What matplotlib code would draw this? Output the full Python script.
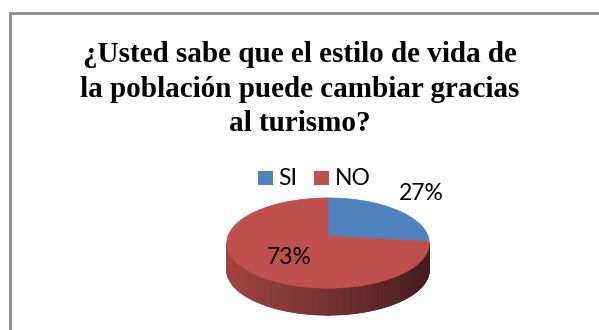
import numpy as np
import matplotlib
matplotlib.use("Agg")
import matplotlib.pyplot as plt
from matplotlib.patches import Polygon, Rectangle

# Survey answers
categories = ["SI", "NO"]
values = [27, 73]
pct_labels = ["27%", "73%"]
colors = ["#4F81BD", "#C0504D"]
title_lines = ["¿Usted sabe que el estilo de vida de",
               "la población puede cambiar gracias",
               "al turismo?"]

W, H = 599, 330
fig = plt.figure(figsize=(W / 100, H / 100), dpi=100)
ax = fig.add_axes([0, 0, 1, 1])
ax.set_xlim(0, W)
ax.set_ylim(H, 0)
ax.axis("off")

# chart frame (left and top edges visible)
ax.plot([9.5, 9.5, W + 5], [H + 5, 13, 13], color="#8c8c8c", lw=2,
        solid_capstyle="butt", solid_joinstyle="miter")

# title
title_font = dict(family="Liberation Serif", weight="bold", size=21,
                  ha="center", va="baseline", color="black")
for line, yb in zip(title_lines, [62, 97, 131]):
    ax.text(300, yb, line, **title_font)

# 3D pie geometry (perspective-tilted disc)
cx, cy = 328, 236
rx, ry, k = 100, 44, 0.156
depth = 27


def proj(theta):
    u, v = np.cos(theta), np.sin(theta)
    s = 1.0 / (1.0 + k * v)
    return cx + rx * u * s, cy - ry * v * s


fracs = np.array(values, dtype=float) / np.sum(values)
bounds = np.deg2rad(90 - 360 * np.concatenate([[0], np.cumsum(fracs)]))


def wedge_index(theta):
    # wrap theta into (start - 2pi, start]
    t = theta
    while t > bounds[0]:
        t -= 2 * np.pi
    while t <= bounds[0] - 2 * np.pi:
        t += 2 * np.pi
    for i in range(len(values)):
        if bounds[i + 1] <= t <= bounds[i]:
            return i
    return len(values) - 1


# visible side wall between silhouette points
ts = np.linspace(-np.pi, 0, 2001)
xs, _ = proj(ts)
t_left = ts[np.argmin(xs)]
t_right = ts[np.argmax(xs)]
xmin, xmax = xs.min(), xs.max()

seg = np.linspace(t_left, t_right, 240)
for a, b in zip(seg[:-1], seg[1:]):
    xa, ya = proj(a)
    xb, yb = proj(b)
    i = wedge_index(0.5 * (a + b))
    base = np.array(matplotlib.colors.to_rgb(colors[i]))
    f = (0.5 * (xa + xb) - xmin) / (xmax - xmin)
    shade = 0.84 - 0.47 * f
    c = np.clip(base * shade, 0, 1)
    quad = [(xa, ya), (xb, yb), (xb, yb + depth), (xa, ya + depth)]
    ax.add_patch(Polygon(quad, closed=True, facecolor=c, edgecolor=c, lw=0.6))

# top faces
for i in range(len(values)):
    th = np.linspace(bounds[i], bounds[i + 1], 200)
    px, py = proj(th)
    pts = [(cx, cy)] + list(zip(px, py))
    ax.add_patch(Polygon(pts, closed=True, facecolor=colors[i],
                         edgecolor=colors[i], lw=0.5))

# value labels
lab_font = dict(family="Lato", size=16.5, ha="center", va="center", color="black")
ax.text(421, 193, pct_labels[0], **lab_font)
ax.text(289, 257, pct_labels[1], **lab_font)

# legend
leg_items = [(258, 278), (314, 335)]
for (sx, tx), name, col in zip(leg_items, categories, colors):
    ax.add_patch(Rectangle((sx, 171), 15, 14, facecolor=col, edgecolor="none"))
    ax.text(tx, 178.5, name, family="Lato", size=16.5, ha="left", va="center",
            color="black")

fig.savefig("out.png", dpi=100)
